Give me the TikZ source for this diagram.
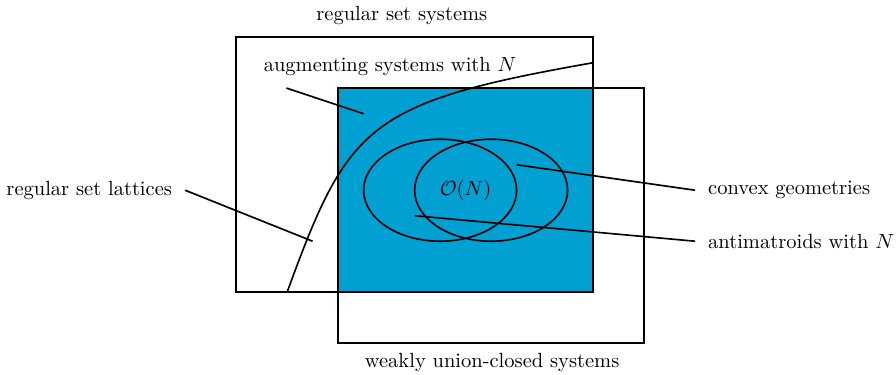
\documentclass[tikz,border=0pt]{standalone}
\usepackage{amsmath,amssymb}
\usepackage{xcolor}
\usepackage{tikz}
\usetikzlibrary{positioning}

\definecolor{setblue}{RGB}{0,160,210}

\begin{document}
\begin{tikzpicture}[x=0.874cm,y=0.874cm,thick,
  lbl/.style={inner sep=6pt}]
\useasboundingbox (-4.63,-1.61) rectangle (12.94,5.73);
\fill[setblue] (2,0) rectangle (7,4);
\draw (0,0) rectangle (7,5);
\draw (2,-1) rectangle (8,4);
\draw (1,0) .. controls (2.2,3.29) and (2.57,3.72) .. (7,4.5);
\draw (4,2) ellipse (1.5 and 1);
\draw (5,2) ellipse (1.5 and 1);
\node (on) at (4.5,2) {$\mathcal{O}(N)$};

\node[lbl] (regsys) at (3.25,5.42) {regular set systems};
\node[lbl] (weak) at (5.02,-1.38) {weakly union-closed systems};
\node[lbl] (augl) at (3.02,4.43) {augmenting systems with $N$};
\node[lbl,anchor=east] (latt) at (-1,2) {regular set lattices};
\node[lbl,anchor=west] (convl) at (9,2) {convex geometries};
\node[lbl,anchor=west] (antil) at (9,1) {antimatroids with $N$};

\coordinate (augpt) at (2.5,3.5);
\coordinate (lattpt) at (1.5,1);
\coordinate (convpt) at (5.5,2.5);
\coordinate (antipt) at (3.5,1.5);

\draw ([xshift=0.7*0.874cm,yshift=0.01cm]augl.south west) -- (augpt);
\draw (latt.east) -- (lattpt);
\draw (convl.west) -- (convpt);
\draw (antil.west) -- (antipt);
\end{tikzpicture}
\end{document}
